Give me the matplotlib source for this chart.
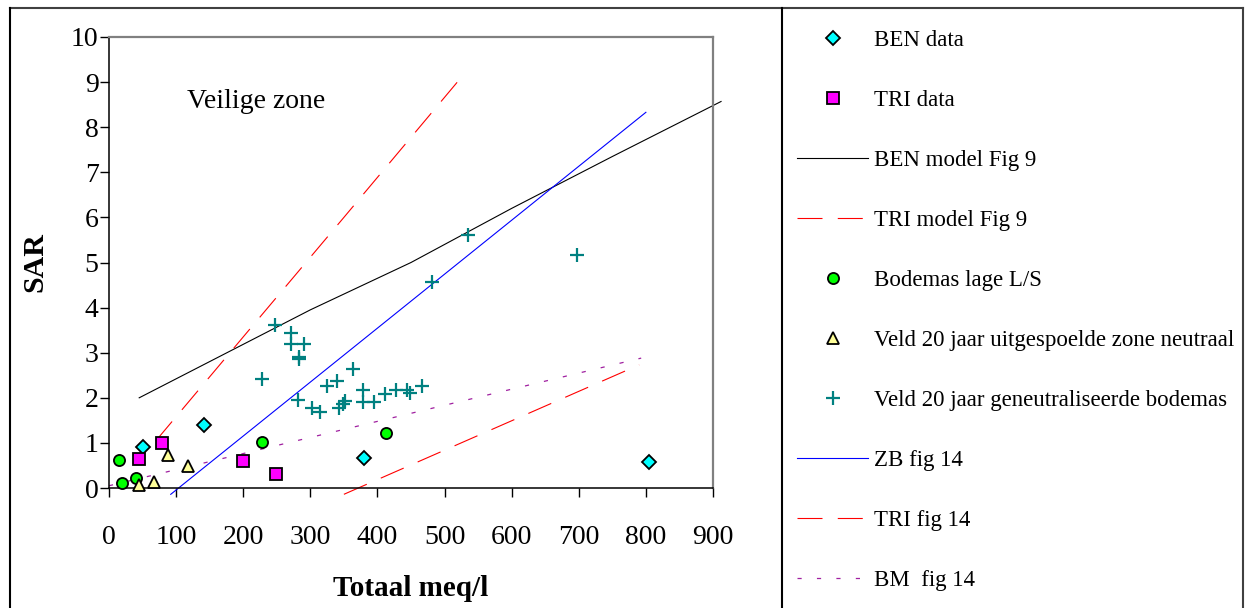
import matplotlib
matplotlib.use('Agg')
import matplotlib.pyplot as plt
from matplotlib.lines import Line2D

plt.rcParams['font.family'] = ['Liberation Serif', 'DejaVu Serif']
plt.rcParams['lines.scale_dashes'] = False

# ---- data ----
ben_x = [51, 141, 380, 805]
ben_y = [0.92, 1.39, 0.66, 0.57]
tri_x = [44, 79, 200, 249]
tri_y = [0.64, 0.99, 0.60, 0.30]
bod_x = [15, 20, 40, 228, 413]
bod_y = [0.61, 0.10, 0.23, 1.03, 1.21]
uit_x = [45, 67, 88, 117]
uit_y = [0.07, 0.13, 0.73, 0.48]
gen_x = [248, 271, 271, 291, 283, 283, 228, 364, 325, 340, 282, 302, 314, 342,
         349, 352, 378, 378, 395, 412, 427, 444, 449, 467, 482, 535, 698]
gen_y = [3.62, 3.43, 3.19, 3.19, 2.90, 2.85, 2.42, 2.64, 2.27, 2.38, 1.95, 1.77,
         1.69, 1.78, 1.87, 1.92, 2.17, 1.90, 1.90, 2.09, 2.17, 2.17, 2.10, 2.27,
         4.57, 5.61, 5.17]

ben_model_x = [45, 300, 450, 600, 750, 912]
ben_model_y = [2.0, 3.95, 5.0, 6.2, 7.35, 8.57]
tri_model_x = [70, 200, 350, 519]
tri_model_y = [1.05, 3.35, 6.0, 9.0]
zb_x = [92, 800]
zb_y = [-0.14, 8.33]
tri14_x = [350, 790]
tri14_y = [-0.14, 2.73]
bm_x = [0, 793]
bm_y = [0.05, 2.88]

labels = ['BEN data', 'TRI data', 'BEN model Fig 9', 'TRI model Fig 9',
          'Bodemas lage L/S', 'Veld 20 jaar uitgespoelde zone neutraal',
          'Veld 20 jaar geneutraliseerde bodemas', 'ZB fig 14', 'TRI fig 14',
          'BM  fig 14']
x_ticks = [0, 100, 200, 300, 400, 500, 600, 700, 800, 900]
y_ticks = [0, 1, 2, 3, 4, 5, 6, 7, 8, 9, 10]

# ---- figure ----
W, H = 1250, 608
fig = plt.figure(figsize=(W / 100, H / 100), dpi=100)
ax = fig.add_axes([109 / W, 1 - 488 / H, (713 - 109) / W, (488 - 37) / H])

long_dash = (0, (18, 11))
dotted = (0, (3, 11))

h_ben_model, = ax.plot(ben_model_x, ben_model_y, color='black', lw=0.8, clip_on=False, zorder=2)
h_tri_model, = ax.plot(tri_model_x, tri_model_y, color='#FF0000', lw=0.8, ls=long_dash, clip_on=False, zorder=2)
h_zb, = ax.plot(zb_x, zb_y, color='#0000FF', lw=0.8, clip_on=False, zorder=2)
h_tri14, = ax.plot(tri14_x, tri14_y, color='#FF0000', lw=0.8, ls=long_dash, clip_on=False, zorder=2)
h_bm, = ax.plot(bm_x, bm_y, color='#A020A0', lw=0.9, ls=dotted, clip_on=False, zorder=2)

mk = dict(ls='none', mec='black', mew=1.3, clip_on=False, zorder=4)
h_ben, = ax.plot(ben_x, ben_y, marker='D', ms=7, mfc='#00FFFF', **mk)
h_tri, = ax.plot(tri_x, tri_y, marker='s', ms=8, mfc='#FF00FF', **mk)
h_bod, = ax.plot(bod_x, bod_y, marker='o', ms=8, mfc='#00FF00', **mk)
h_uit, = ax.plot(uit_x, uit_y, marker='^', ms=9, mfc='#FFFF99', **mk)
h_gen, = ax.plot(gen_x, gen_y, marker='+', ms=10, ls='none', mec='#008080', mew=1.6,
                 clip_on=False, zorder=4)

ax.set_xlim(0, 900)
ax.set_ylim(0, 10)
ax.set_xticks(x_ticks)
ax.set_yticks(y_ticks)
ax.tick_params(axis='x', direction='out', length=6.5, width=1, pad=20, labelsize=20)
ax.tick_params(axis='y', direction='out', length=6.5, width=1, pad=1, labelsize=20)

for s in ['top', 'right']:
    ax.spines[s].set_color('#808080')
    ax.spines[s].set_linewidth(1.6)
for s in ['left', 'bottom']:
    ax.spines[s].set_color('black')
    ax.spines[s].set_linewidth(1.1)

ax.set_xlabel('Totaal meq/l', fontsize=21, fontweight='bold')
ax.set_ylabel('SAR', fontsize=21.5, fontweight='bold')
ax.xaxis.set_label_coords(0.5, -0.192)
ax.yaxis.set_label_coords(-0.101, 0.5)

ax.text(116, 8.42, 'Veilige zone', fontsize=20, ha='left', va='baseline')

# ---- legend ----
handles = [h_ben, h_tri, h_ben_model, h_tri_model, h_bod, h_uit, h_gen, h_zb, h_tri14, h_bm]
fig.legend(handles, labels, loc='upper left', bbox_to_anchor=(797 / W, 1 - 30 / H),
           frameon=False, fontsize=16.5, numpoints=1, handlelength=3.1,
           handletextpad=0.25, labelspacing=1.70, borderpad=0, borderaxespad=0)

# ---- outer frame ----
fl = dict(transform=fig.transFigure, lw=1.5)
fig.add_artist(Line2D([10 / W, 1243 / W], [1 - 8 / H, 1 - 8 / H], color='#404040', **fl))
fig.add_artist(Line2D([10 / W, 10 / W], [0, 1 - 8 / H], color='black', **fl))
fig.add_artist(Line2D([782 / W, 782 / W], [0, 1 - 8 / H], color='black', **fl))
fig.add_artist(Line2D([1243 / W, 1243 / W], [0, 1 - 8 / H], color='#404040', **fl))

fig.savefig('out.png', dpi=100)
